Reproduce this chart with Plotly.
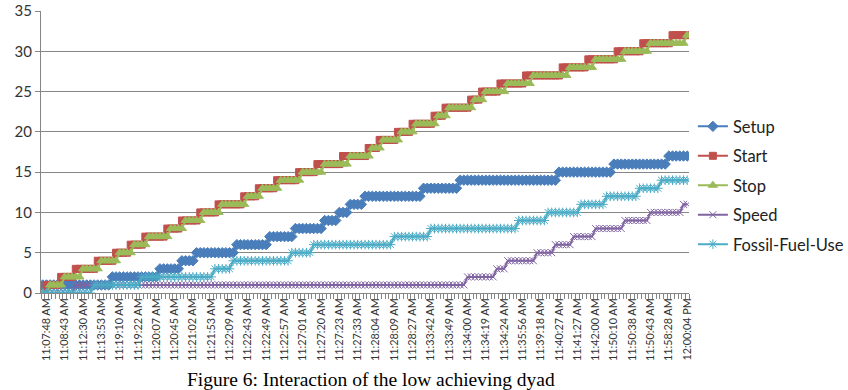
import plotly.graph_objects as go

# ---------------- data ----------------
series_names = ["Setup", "Start", "Stop", "Speed", "Fossil-Fuel-Use"]

setup = [
    1, 1, 1, 1, 1, 1, 1, 1, 1, 1,
    1, 1, 1, 1, 1, 1, 1, 1, 1, 2,
    2, 2, 2, 2, 2, 2, 2, 2, 2, 2,
    2, 2, 3, 3, 3, 3, 3, 3, 4, 4,
    4, 4, 5, 5, 5, 5, 5, 5, 5, 5,
    5, 5, 5, 6, 6, 6, 6, 6, 6, 6,
    6, 6, 7, 7, 7, 7, 7, 7, 7, 8,
    8, 8, 8, 8, 8, 8, 8, 9, 9, 9,
    9, 10, 10, 10, 11, 11, 11, 11, 12, 12,
    12, 12, 12, 12, 12, 12, 12, 12, 12, 12,
    12, 12, 12, 12, 13, 13, 13, 13, 13, 13,
    13, 13, 13, 13, 14, 14, 14, 14, 14, 14,
    14, 14, 14, 14, 14, 14, 14, 14, 14, 14,
    14, 14, 14, 14, 14, 14, 14, 14, 14, 14,
    14, 15, 15, 15, 15, 15, 15, 15, 15, 15,
    15, 15, 15, 15, 15, 15, 16, 16, 16, 16,
    16, 16, 16, 16, 16, 16, 16, 16, 16, 16,
    16, 17, 17, 17, 17, 17, 17,
]

start = [
    0, 1, 1, 1, 1, 2, 2, 2, 2, 3,
    3, 3, 3, 3, 3, 4, 4, 4, 4, 4,
    5, 5, 5, 5, 6, 6, 6, 6, 7, 7,
    7, 7, 7, 7, 8, 8, 8, 8, 9, 9,
    9, 9, 9, 10, 10, 10, 10, 10, 11, 11,
    11, 11, 11, 11, 11, 12, 12, 12, 12, 13,
    13, 13, 13, 13, 14, 14, 14, 14, 14, 14,
    15, 15, 15, 15, 15, 16, 16, 16, 16, 16,
    16, 16, 17, 17, 17, 17, 17, 17, 17, 18,
    18, 18, 19, 19, 19, 19, 19, 20, 20, 20,
    20, 21, 21, 21, 21, 21, 21, 22, 22, 22,
    23, 23, 23, 23, 23, 23, 23, 24, 24, 24,
    25, 25, 25, 25, 25, 26, 26, 26, 26, 26,
    26, 26, 27, 27, 27, 27, 27, 27, 27, 27,
    27, 27, 28, 28, 28, 28, 28, 28, 28, 29,
    29, 29, 29, 29, 29, 29, 29, 30, 30, 30,
    30, 30, 30, 30, 31, 31, 31, 31, 31, 31,
    31, 31, 32, 32, 32, 32, 32,
]

stop = [
    0, 0, 1, 1, 1, 1, 2, 2, 2, 2,
    2, 3, 3, 3, 3, 3, 4, 4, 4, 4,
    4, 5, 5, 5, 5, 6, 6, 6, 6, 7,
    7, 7, 7, 7, 7, 8, 8, 8, 8, 9,
    9, 9, 9, 9, 10, 10, 10, 10, 10, 11,
    11, 11, 11, 11, 11, 11, 12, 12, 12, 12,
    13, 13, 13, 13, 13, 14, 14, 14, 14, 14,
    14, 15, 15, 15, 15, 15, 15, 16, 16, 16,
    16, 16, 16, 16, 17, 17, 17, 17, 17, 17,
    18, 18, 18, 19, 19, 19, 19, 19, 20, 20,
    20, 20, 21, 21, 21, 21, 21, 21, 22, 22,
    22, 23, 23, 23, 23, 23, 23, 23, 24, 24,
    24, 25, 25, 25, 25, 25, 25, 26, 26, 26,
    26, 26, 26, 26, 27, 27, 27, 27, 27, 27,
    27, 27, 27, 27, 28, 28, 28, 28, 28, 28,
    28, 29, 29, 29, 29, 29, 29, 29, 29, 30,
    30, 30, 30, 30, 30, 30, 31, 31, 31, 31,
    31, 31, 31, 31, 31, 31, 32,
]

speed = [
    0, 0, 0, 0, 0, 0, 0, 0, 0, 1,
    1, 1, 1, 1, 1, 1, 1, 1, 1, 1,
    1, 1, 1, 1, 1, 1, 1, 1, 1, 1,
    1, 1, 1, 1, 1, 1, 1, 1, 1, 1,
    1, 1, 1, 1, 1, 1, 1, 1, 1, 1,
    1, 1, 1, 1, 1, 1, 1, 1, 1, 1,
    1, 1, 1, 1, 1, 1, 1, 1, 1, 1,
    1, 1, 1, 1, 1, 1, 1, 1, 1, 1,
    1, 1, 1, 1, 1, 1, 1, 1, 1, 1,
    1, 1, 1, 1, 1, 1, 1, 1, 1, 1,
    1, 1, 1, 1, 1, 1, 1, 1, 1, 1,
    1, 1, 1, 1, 1, 1, 2, 2, 2, 2,
    2, 2, 2, 2, 3, 3, 3, 4, 4, 4,
    4, 4, 4, 4, 4, 5, 5, 5, 5, 5,
    6, 6, 6, 6, 6, 7, 7, 7, 7, 7,
    7, 8, 8, 8, 8, 8, 8, 8, 8, 9,
    9, 9, 9, 9, 9, 9, 10, 10, 10, 10,
    10, 10, 10, 10, 10, 11, 11,
]

fossil_fuel_use = [
    0, 0, 0, 0, 0, 0, 0, 0, 0, 0,
    0, 0, 0, 0, 1, 1, 1, 1, 1, 1,
    1, 1, 1, 1, 1, 1, 1, 2, 2, 2,
    2, 2, 2, 2, 2, 2, 2, 2, 2, 2,
    2, 2, 2, 2, 2, 2, 2, 3, 3, 3,
    3, 3, 4, 4, 4, 4, 4, 4, 4, 4,
    4, 4, 4, 4, 4, 4, 4, 4, 5, 5,
    5, 5, 5, 5, 6, 6, 6, 6, 6, 6,
    6, 6, 6, 6, 6, 6, 6, 6, 6, 6,
    6, 6, 6, 6, 6, 6, 7, 7, 7, 7,
    7, 7, 7, 7, 7, 7, 8, 8, 8, 8,
    8, 8, 8, 8, 8, 8, 8, 8, 8, 8,
    8, 8, 8, 8, 8, 8, 8, 8, 8, 8,
    9, 9, 9, 9, 9, 9, 9, 9, 10, 10,
    10, 10, 10, 10, 10, 10, 10, 11, 11, 11,
    11, 11, 11, 11, 12, 12, 12, 12, 12, 12,
    12, 12, 12, 13, 13, 13, 13, 13, 13, 14,
    14, 14, 14, 14, 14, 14, 14,
]

tick_labels = [
    "11:07:48 AM", "11:08:43 AM", "11:12:30 AM", "11:13:53 AM", "11:19:10 AM",
    "11:19:22 AM", "11:20:07 AM", "11:20:45 AM", "11:21:02 AM", "11:21:53 AM",
    "11:22:09 AM", "11:22:43 AM", "11:22:49 AM", "11:22:57 AM", "11:27:01 AM",
    "11:27:20 AM", "11:27:23 AM", "11:27:33 AM", "11:28:04 AM", "11:28:09 AM",
    "11:28:27 AM", "11:33:42 AM", "11:33:49 AM", "11:34:00 AM", "11:34:19 AM",
    "11:34:24 AM", "11:35:56 AM", "11:39:18 AM", "11:40:27 AM", "11:41:27 AM",
    "11:42:00 AM", "11:50:10 AM", "11:50:38 AM", "11:50:43 AM", "11:58:28 AM",
    "12:00:04 PM",
]

caption = "Figure 6: Interaction of the low achieving dyad"

# ---------------- figure ----------------
n = len(start)
x = list(range(n))
tick_positions = list(range(1, n, 5))

styles = {
    "Setup": dict(color="#4A7EBB", symbol="diamond", size=8),
    "Start": dict(color="#C0504D", symbol="square", size=7),
    "Stop": dict(color="#9BBB59", symbol="triangle-up", size=8),
    "Speed": dict(color="#8064A2", symbol="x-thin-open", size=7),
    "Fossil-Fuel-Use": dict(color="#4BACC6", symbol="asterisk-open", size=8),
}
data = {"Setup": setup, "Start": start, "Stop": stop, "Speed": speed,
        "Fossil-Fuel-Use": fossil_fuel_use}

fig = go.Figure()
for name in series_names:
    st = styles[name]
    fig.add_trace(go.Scatter(
        x=x, y=data[name], name=name, mode="lines+markers",
        line=dict(color=st["color"], width=2),
        marker=dict(symbol=st["symbol"], size=st["size"], color=st["color"],
                    line=dict(color=st["color"], width=1)),
        legendgroup=name,
    ))

axis_color = "#868686"
text_font = "Lato, 'Open Sans', sans-serif"

fig.update_layout(
    width=848, height=390,
    margin=dict(l=41, r=159, t=11, b=97, autoexpand=False),
    paper_bgcolor="white", plot_bgcolor="white",
    showlegend=True,
    legend=dict(
        x=1.006, xanchor="left", y=0.652, yanchor="top",
        font=dict(family=text_font, size=16.5, color="#222222"),
        traceorder="grouped", tracegroupgap=5,
        itemwidth=30, bgcolor="rgba(0,0,0,0)",
    ),
    xaxis=dict(
        range=[-0.5, n - 0.5], automargin=False,
        tickmode="array", tickvals=tick_positions, ticktext=tick_labels,
        tickangle=-90, ticks="", ticklabeloverflow="allow",
        tickfont=dict(family=text_font, size=10.8, color="#333333"),
        showgrid=False, zeroline=False,
        showline=True, linecolor=axis_color, linewidth=1,
        minor=dict(tickmode="linear", tick0=-0.5, dtick=1, ticks="outside",
                   ticklen=5, tickcolor=axis_color, tickwidth=1, showgrid=False),
    ),
    yaxis=dict(
        range=[0, 35], tickmode="linear", tick0=0, dtick=5, automargin=False,
        ticks="outside", ticklen=5, tickcolor=axis_color,
        tickfont=dict(family=text_font, size=15, color="#333333"),
        showgrid=True, gridcolor=axis_color, gridwidth=1,
        zeroline=False, showline=True, linecolor=axis_color, linewidth=1,
    ),
    annotations=[dict(
        text=caption, xref="paper", yref="paper",
        x=0.509, y=-0.308, xanchor="center", yanchor="middle",
        showarrow=False,
        font=dict(family="'Liberation Serif', 'Times New Roman', serif", size=19.5, color="black"),
    )],
)

fig.write_html("out.html")
